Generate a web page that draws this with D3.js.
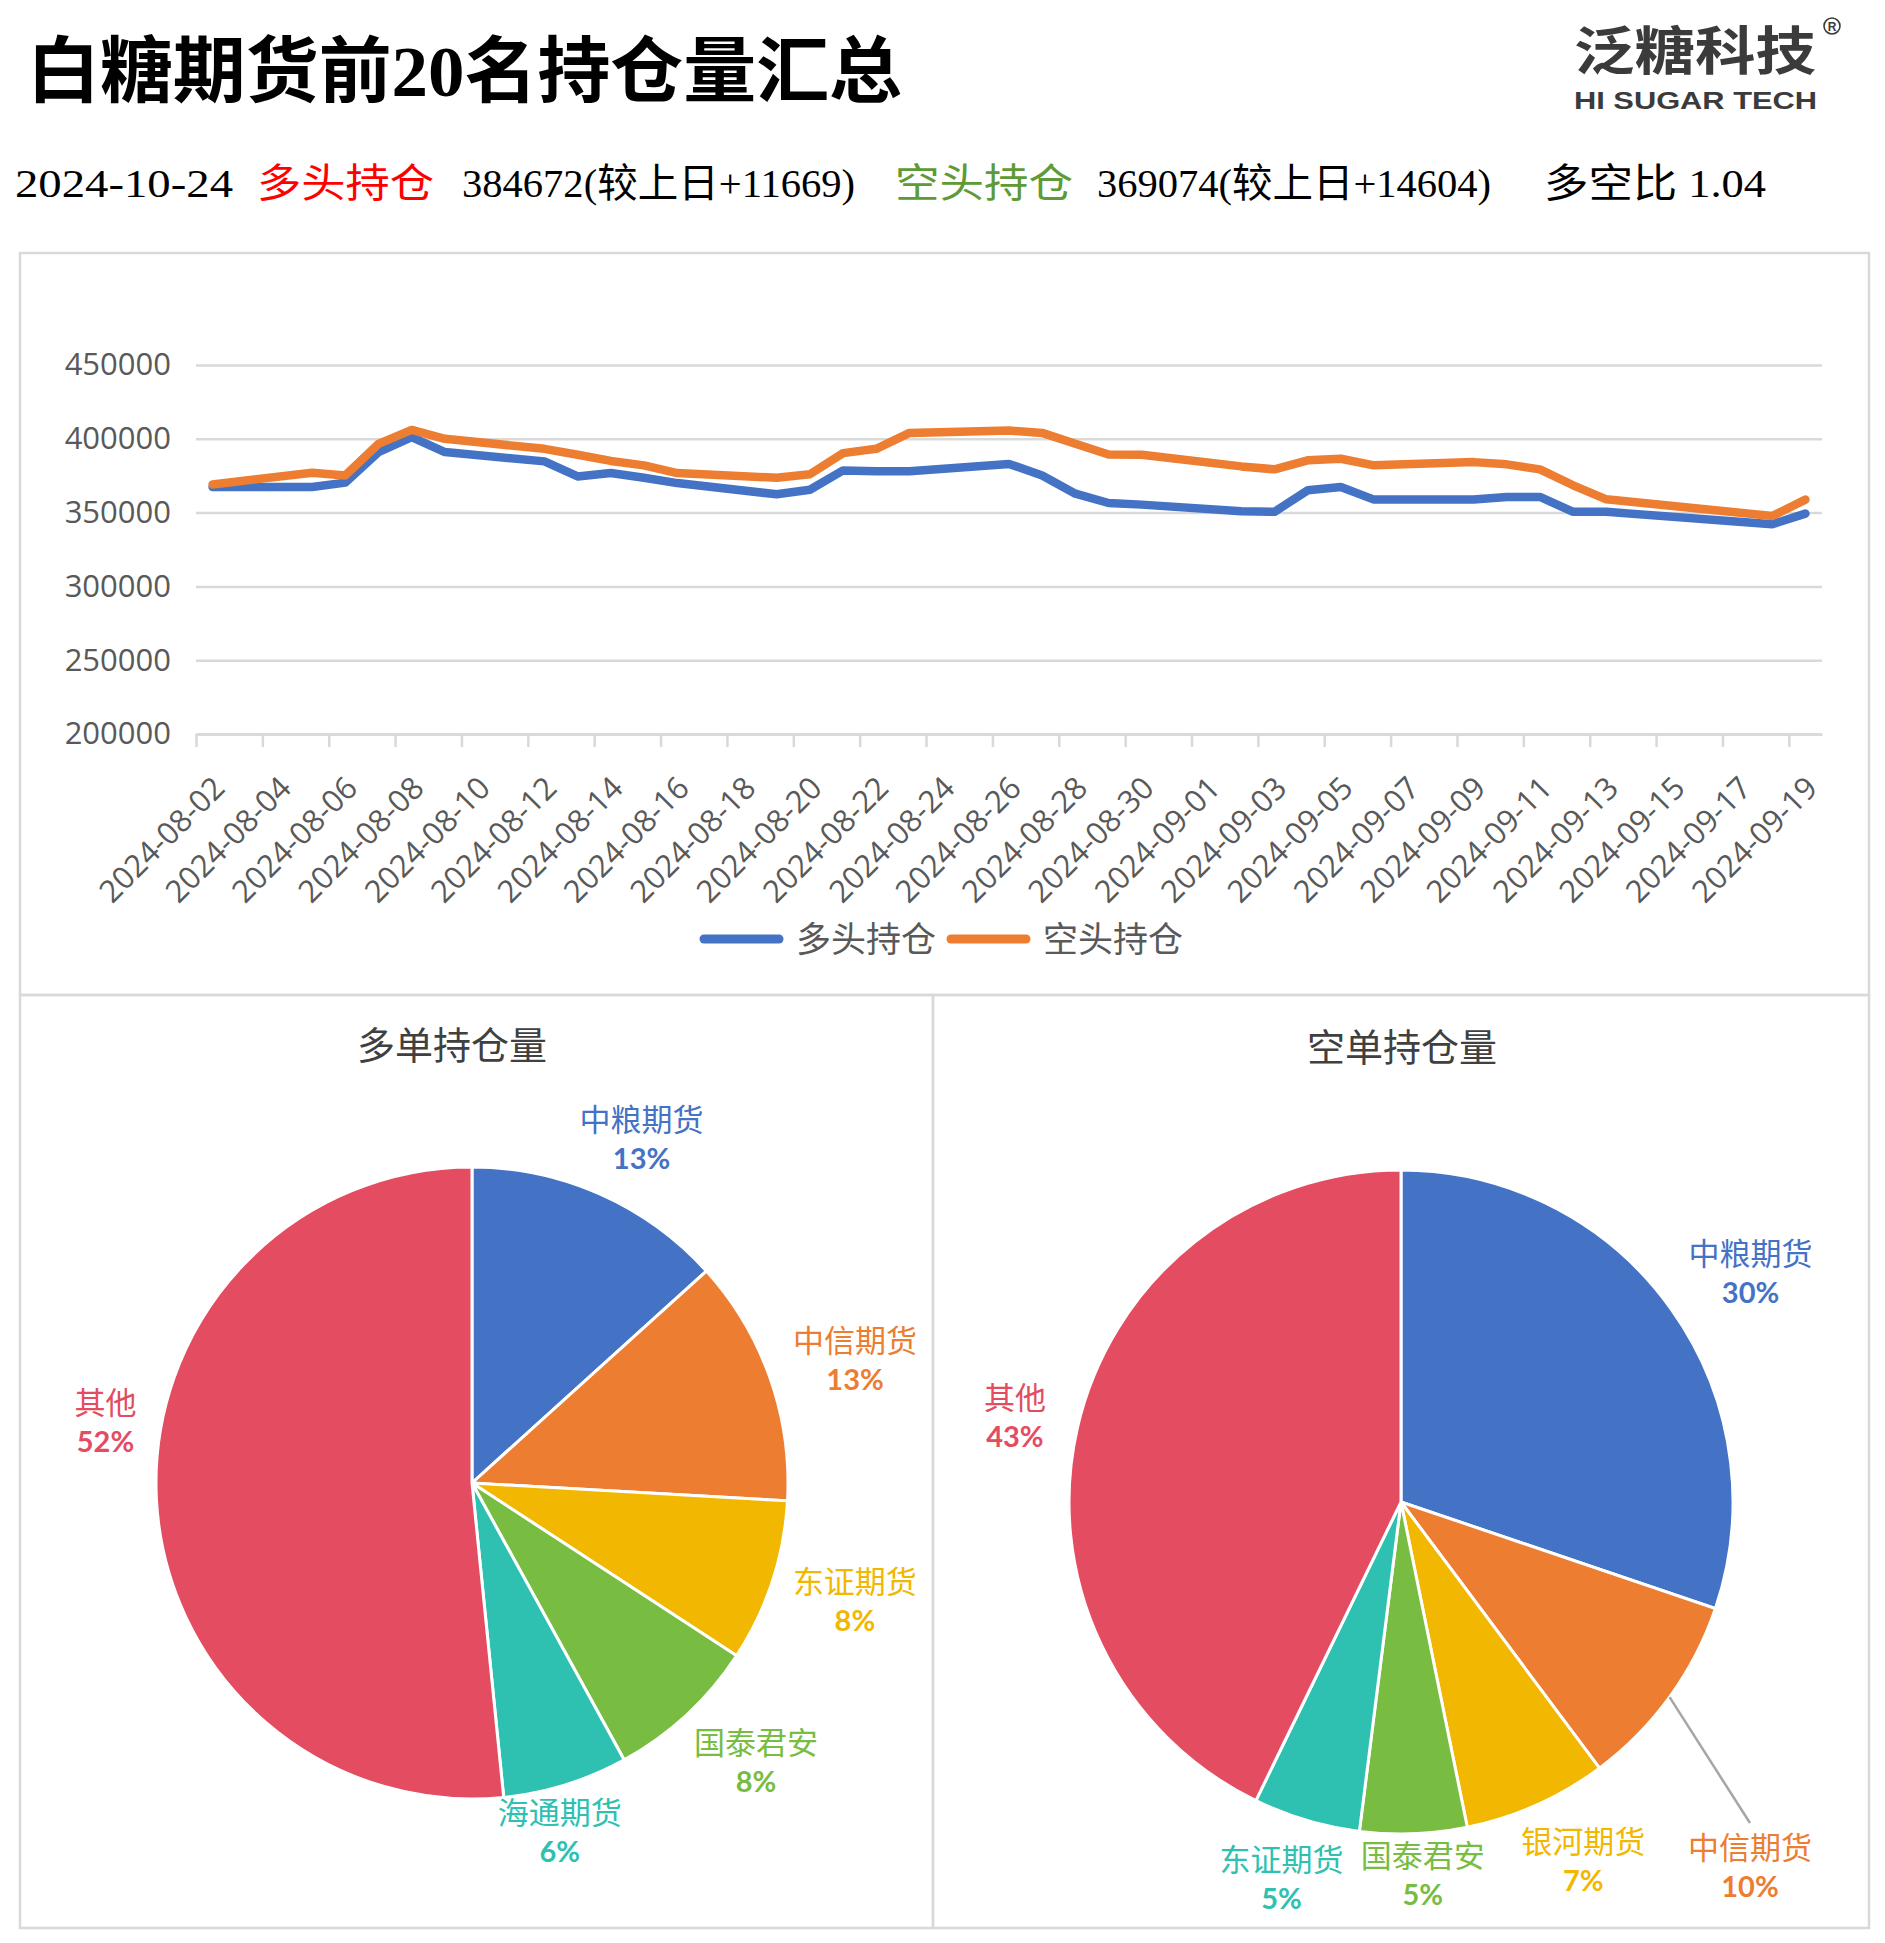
<!DOCTYPE html>
<html>
<head>
<meta charset="utf-8">
<script src="https://cdn.jsdelivr.net/npm/d3@7"></script>
<style>
  body { margin: 0; background: #fff; }
  svg { display: block; }
</style>
</head>
<body>
<div id="board"></div>
<script>
// ---- data ----
const dates = ["2024-08-02","2024-08-05","2024-08-06","2024-08-07","2024-08-08","2024-08-09",
  "2024-08-12","2024-08-13","2024-08-14","2024-08-15","2024-08-16","2024-08-19","2024-08-20",
  "2024-08-21","2024-08-22","2024-08-23","2024-08-26","2024-08-27","2024-08-28","2024-08-29",
  "2024-08-30","2024-09-02","2024-09-03","2024-09-04","2024-09-05","2024-09-06","2024-09-09",
  "2024-09-10","2024-09-11","2024-09-12","2024-09-13","2024-09-18","2024-09-19"];
const longHold = [367300,367300,370300,391000,401100,391000,384700,374500,376800,373600,370000,
  362400,365500,378600,378000,378000,383000,375200,362800,356500,355400,350900,350500,365100,
  367300,358800,358800,360600,360600,350500,350500,342100,349300];
const shortHold = [369100,377000,375200,396600,406000,400000,393200,389200,385000,382000,376800,
  373600,376000,390300,393200,404000,405600,404000,396600,389400,389200,381300,379300,385400,
  386500,382000,384200,382700,379300,368500,359000,347700,358800];
const yTicks = [200000,250000,300000,350000,400000,450000];
const seriesNames = ["多头持仓","空头持仓"];

const longBrokers = ["中粮期货","中信期货","东证期货","国泰君安","海通期货","其他"];
const longShare = [13.3,12.6,8.3,7.8,6.4,51.6];
const shortBrokers = ["中粮期货","中信期货","银河期货","国泰君安","东证期货","其他"];
const shortShare = [30.2,9.6,7.0,5.2,5.2,42.8];

const title = "白糖期货前20名持仓量汇总";
const infoParts = ["2024-10-24","多头持仓","384672(较上日+11669)","空头持仓","369074(较上日+14604)","多空比 1.04"];

// ---- style ----
const longColor = {"中粮期货":"#4472C4","中信期货":"#ED7D31","东证期货":"#F2B700",
  "国泰君安":"#78BC41","海通期货":"#2EC1B2","其他":"#E34C61"};
const shortColor = {"中粮期货":"#4472C4","中信期货":"#ED7D31","银河期货":"#F2B700",
  "国泰君安":"#78BC41","东证期货":"#2EC1B2","其他":"#E34C61"};
const lineColors = ["#4472C4","#ED7D31"];
const cjk = "'Noto Sans CJK SC', sans-serif";
const grid = "#d9d9d9";

const width = 1885, height = 1943;
const svg = d3.create("svg").attr("width", width).attr("height", height);

// ---- header ----
svg.append("text")
  .attr("x", 27).attr("y", 96)
  .attr("font-family", "'Liberation Serif', " + cjk)
  .attr("font-weight", 700).attr("font-size", 72)
  .attr("textLength", 875).attr("lengthAdjust", "spacingAndGlyphs")
  .attr("fill", "#000").text(title);

const infoX = [15, 257, 462, 895, 1097, 1544];
const infoW = [218, 177, 393, 178, 394, 222];
const infoFill = ["#000", "#FF0000", "#000", "#5E9A35", "#000", "#000"];
infoParts.forEach((t, i) => {
  svg.append("text")
    .attr("x", infoX[i]).attr("y", 197)
    .attr("font-family", "'Liberation Serif', " + cjk)
    .attr("font-size", 40)
    .attr("textLength", infoW[i]).attr("lengthAdjust", "spacingAndGlyphs")
    .attr("fill", infoFill[i]).text(t);
});

// logo
const logo = svg.append("g").attr("fill", "#3b3b3b");
logo.append("text").attr("x", 1574).attr("y", 70)
  .attr("font-family", cjk).attr("font-weight", 700).attr("font-size", 52)
  .attr("textLength", 242).attr("lengthAdjust", "spacingAndGlyphs").text("泛糖科技");
logo.append("text").attr("x", 1574).attr("y", 109)
  .attr("font-family", "'Liberation Sans', sans-serif").attr("font-weight", 700).attr("font-size", 24)
  .attr("textLength", 243).attr("lengthAdjust", "spacingAndGlyphs").text("HI SUGAR TECH");
logo.append("circle").attr("cx", 1832).attr("cy", 26).attr("r", 8)
  .attr("fill", "none").attr("stroke", "#3b3b3b").attr("stroke-width", 1.6);
logo.append("text").attr("x", 1832).attr("y", 31).attr("text-anchor", "middle")
  .attr("font-family", "'Liberation Sans', sans-serif").attr("font-weight", 700).attr("font-size", 12)
  .text("R");

// ---- panel borders ----
const panels = [[20, 253, 1849, 742], [20, 995, 913, 933], [933, 995, 936, 933]];
svg.append("g").selectAll("rect").data(panels).join("rect")
  .attr("x", d => d[0]).attr("y", d => d[1]).attr("width", d => d[2]).attr("height", d => d[3])
  .attr("fill", "none").attr("stroke", grid).attr("stroke-width", 2.5);

// ---- line chart ----
const marginLeft = 196, marginRight = 1822, plotTop = 365, plotBottom = 734;
const parse = d3.utcParse("%Y-%m-%d");
const start = parse("2024-08-02"), end = parse("2024-09-20");
const halfDay = 12 * 3600 * 1000;

const x = d3.scaleUtc().domain([start, end]).range([marginLeft, marginRight]);
const y = d3.scaleLinear().domain([200000, 450000]).range([plotBottom, plotTop]);

// y grid + labels
svg.append("g")
  .attr("transform", `translate(${marginLeft},0)`)
  .call(d3.axisLeft(y).tickValues(yTicks).tickFormat(d3.format("d"))
    .tickSize(-(marginRight - marginLeft)).tickPadding(25))
  .call(g => g.select(".domain").remove())
  .call(g => g.selectAll(".tick line").attr("stroke", grid).attr("stroke-width", 2.5))
  .call(g => g.selectAll(".tick text")
    .attr("font-family", "'Open Sans', sans-serif").attr("font-size", 31).attr("fill", "#595959"));

// x axis
const xTickDates = d3.utcDay.range(start, end, 2);
const fmt = d3.utcFormat("%Y-%m-%d");
svg.append("g")
  .attr("transform", `translate(0,${plotBottom})`)
  .call(d3.axisBottom(x).tickValues(xTickDates).tickSize(13).tickSizeOuter(0).tickFormat(""))
  .call(g => g.select(".domain").attr("stroke", grid).attr("stroke-width", 2.5))
  .call(g => g.selectAll(".tick line").attr("stroke", grid).attr("stroke-width", 2.5));

svg.append("g").selectAll("text").data(xTickDates).join("text")
  .attr("transform", d => `translate(${x(new Date(+d + halfDay)) + 14},${plotBottom + 56}) rotate(-45)`)
  .attr("text-anchor", "end")
  .attr("font-family", "'Open Sans', sans-serif").attr("font-size", 31).attr("fill", "#595959")
  .text(d => fmt(d));

// lines
const line = d3.line()
  .x(d => x(new Date(+parse(d[0]) + halfDay)))
  .y(d => y(d[1]));
[longHold, shortHold].forEach((vals, i) => {
  svg.append("path")
    .datum(dates.map((d, j) => [d, vals[j]]))
    .attr("fill", "none").attr("stroke", lineColors[i]).attr("stroke-width", 8.5)
    .attr("stroke-linejoin", "round").attr("stroke-linecap", "round")
    .attr("d", line);
});

// legend
const legend = svg.append("g").attr("transform", "translate(700,939)");
seriesNames.forEach((name, i) => {
  const g = legend.append("g").attr("transform", `translate(${i * 247},0)`);
  g.append("line").attr("x1", 4).attr("x2", 79).attr("stroke", lineColors[i])
    .attr("stroke-width", 9).attr("stroke-linecap", "round");
  g.append("text").attr("x", 96).attr("dy", "0.36em")
    .attr("font-family", cjk).attr("font-size", 35).attr("fill", "#595959").text(name);
});

// ---- pies ----
function drawPie(opt) {
  const g = svg.append("g").attr("transform", `translate(${opt.cx},${opt.cy})`);
  svg.append("text").attr("x", opt.titleX).attr("y", opt.titleY).attr("text-anchor", "middle")
    .attr("dy", "0.36em").attr("font-family", cjk).attr("font-size", 38).attr("fill", "#404040")
    .text(opt.title);

  const arcs = d3.pie().sort(null).value(d => d)(opt.values);
  const arc = d3.arc().innerRadius(0).outerRadius(opt.r);
  g.selectAll("path").data(arcs).join("path")
    .attr("d", arc)
    .attr("fill", (d, i) => opt.colors[opt.names[i]])
    .attr("stroke", "#fff").attr("stroke-width", 3);

  arcs.forEach((d, i) => {
    const name = opt.names[i];
    const a = (d.startAngle + d.endAngle) / 2;
    const w = name.length * 31, h = 72, rr = opt.r + 25;
    const nudge = opt.nudge[name] || [0, 0];
    const lx = Math.sin(a) * (rr + w / 2) + nudge[0];
    const ly = -Math.cos(a) * (rr + h / 2) + nudge[1];
    if (opt.leader === name) {
      g.append("line")
        .attr("x1", Math.sin(a) * opt.r).attr("y1", -Math.cos(a) * opt.r)
        .attr("x2", lx).attr("y2", ly - 44)
        .attr("stroke", "#a6a6a6").attr("stroke-width", 2.5);
    }
    const c = opt.colors[name];
    g.append("text").attr("x", lx).attr("y", ly - 19).attr("dy", "0.36em")
      .attr("text-anchor", "middle").attr("font-family", cjk).attr("font-size", 31)
      .attr("fill", c).text(name);
    g.append("text").attr("x", lx).attr("y", ly + 20).attr("dy", "0.36em")
      .attr("text-anchor", "middle").attr("font-family", "Lato, 'Open Sans', sans-serif")
      .attr("font-weight", 700).attr("font-size", 29)
      .attr("fill", c).text(d3.format(".0f")(opt.values[i]) + "%");
  });
}

drawPie({title: "多单持仓量", titleX: 452, titleY: 1045, cx: 472, cy: 1483, r: 316,
  names: longBrokers, values: longShare, colors: longColor,
  nudge: {"中粮期货": [6, 0], "中信期货": [3, 2], "国泰君安": [10, 2],
    "其他": [5, -80], "海通期货": [-32, -11]}});
drawPie({title: "空单持仓量", titleX: 1402, titleY: 1047, cx: 1401, cy: 1502, r: 332,
  names: shortBrokers, values: shortShare, colors: shortColor,
  nudge: {"中粮期货": [9, 0], "银河期货": [11, 0], "其他": [-8, 3],
    "中信期货": [10, 134], "国泰君安": [6, -20]}, leader: "中信期货"});

document.getElementById("board").append(svg.node());
</script>
</body>
</html>
